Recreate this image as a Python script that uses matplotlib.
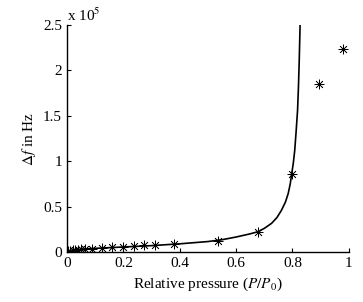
import matplotlib
matplotlib.use("Agg")
import matplotlib.pyplot as plt

# measured points (P/P0, delta f in 1e5 Hz)
meas_x = [0.005, 0.01, 0.02, 0.03, 0.04, 0.05, 0.065, 0.09, 0.124, 0.16, 0.2,
          0.238, 0.273, 0.312, 0.38, 0.537, 0.678, 0.797, 0.894, 0.979]
meas_y = [0.01, 0.015, 0.02, 0.022, 0.025, 0.028, 0.03, 0.035, 0.045, 0.05,
          0.055, 0.065, 0.075, 0.08, 0.09, 0.125, 0.224, 0.855, 1.85, 2.24]

# fitted curve
fit_x = [0.0, 0.02, 0.05, 0.1, 0.2, 0.3, 0.4, 0.5, 0.55, 0.6, 0.65, 0.678,
         0.7, 0.726, 0.745, 0.761, 0.775, 0.785, 0.792, 0.797, 0.803, 0.808,
         0.813, 0.818, 0.821, 0.824, 0.827]
fit_y = [0.0, 0.02, 0.03, 0.04, 0.055, 0.07, 0.09, 0.115, 0.135, 0.165, 0.2,
         0.224, 0.26, 0.316, 0.38, 0.46, 0.55, 0.646, 0.75, 0.855, 0.98, 1.12,
         1.33, 1.56, 1.8, 2.11, 2.5]

xticks = [0, 0.2, 0.4, 0.6, 0.8, 1]
xtick_labels = ["0", "0.2", "0.4", "0.6", "0.8", "1"]
yticks = [0, 0.5, 1, 1.5, 2, 2.5]
ytick_labels = ["0", "0.5", "1", "1.5", "2", "2.5"]

plt.rcParams["font.family"] = ["Liberation Serif", "DejaVu Serif"]
plt.rcParams["mathtext.fontset"] = "stix"

fig = plt.figure(figsize=(3.63, 3.02), dpi=100)
ax = fig.add_axes([0.1846, 0.1656, 0.7764, 0.7514])

ax.plot(fit_x, fit_y, color="black", lw=1.2)
ax.plot(meas_x, meas_y, marker=(8, 2, 0), ls="none", color="black",
        ms=7, mew=0.5)

ax.set_xlim(0, 1)
ax.set_ylim(0, 2.5)
ax.set_xticks(xticks)
ax.set_xticklabels(xtick_labels)
ax.set_yticks(yticks)
ax.set_yticklabels(ytick_labels)
ax.tick_params(direction="in", length=3, width=0.8, labelsize=11)
for s in ["top", "right"]:
    ax.spines[s].set_visible(False)
ax.spines["left"].set_linewidth(1.0)
ax.spines["bottom"].set_linewidth(1.0)

ax.set_xlabel("Relative pressure ($P/P_0$)", fontsize=11)
ax.set_ylabel("$\\Delta f$ in Hz", fontsize=11, labelpad=4)
ax.text(0.0, 1.005, "x 10$^5$", transform=ax.transAxes, fontsize=11,
        ha="left", va="bottom")

fig.savefig("out.png", dpi=100)
